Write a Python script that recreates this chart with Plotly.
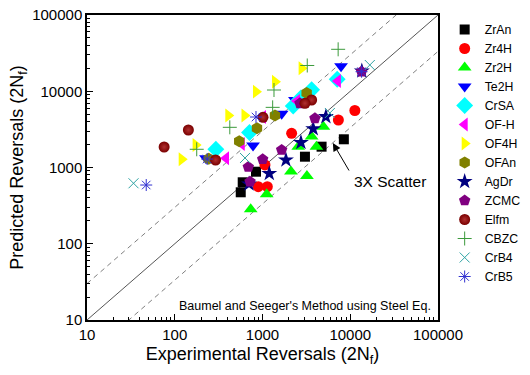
import math
import plotly.graph_objects as go

# ---------------- data (experimental, predicted) ----------------
zran_x = [565, 595, 843, 3046, 4713, 8453]
zran_y = [473, 640, 881, 1386, 1875, 2344]

zr4h_x = [895, 1135, 1067, 2148, 7320, 11280]
zr4h_y = [560, 560, 1079, 2808, 4198, 5593]

zr2h_x = [734, 1116, 2110, 3208, 2553, 4115, 3630, 4943]
zr2h_y = [283, 445, 887, 774, 1875, 1875, 2551, 3430]

te2h_x = [7855, 2344, 1653, 780, 227]
te2h_y = [21240, 7680, 5080, 1944, 1321]

crsa_x = [7096, 3630, 2742, 2239, 711, 294]
crsa_y = [14350, 10480, 8150, 6410, 2877, 1733]

ofh_x = [7228, 2470, 1013, 580, 384]
ofh_y = [13620, 7450, 4594, 2033, 1321]

of4h_x = [2793, 1387, 843, 408, 624, 173, 120]
of4h_y = [20000, 13340, 9870, 4808, 4808, 1972, 1282]

ofan_x = [3184, 1387, 865, 543, 244]
ofan_y = [9490, 4808, 3266, 2206, 1304]

agdr_x = [13550, 5277, 3784, 2742, 1851, 1195, 702]
agdr_y = [18440, 4638, 3218, 2128, 1254, 834, 608]

zcmc_x = [13450, 3957, 2672, 1653, 1005, 689, 721]
zcmc_y = [18050, 4418, 6950, 1698, 1282, 1015, 651]

elfm_x = [3630, 3046, 1013, 143, 75.7, 292]
elfm_y = [7680, 6950, 4550, 3104, 1857, 1254]

cbzc_x = [7280, 3236, 1352, 1306, 424, 178]
cbzc_y = [35480, 21770, 10380, 6150, 3365, 1733]

crb4_x = [16710, 5860, 632, 33.9]
crb4_y = [22090, 5186, 1333, 621]

crb5_x = [13450, 843, 234, 47.3]
crb5_y = [18050, 4594, 1292, 589]

# reference lines: 1:1 and 3X scatter band
ref_x = [10, 100000]
scatter_factors = [1, 3, 1 / 3]

tick_vals = [10, 100, 1000, 10000, 100000]
tick_text = ["10", "100", "1000", "10000", "100000"]

arrow_tip = (6340, 2095)
label_pos = (28240, 665)

FONT = "Arial, Liberation Sans, sans-serif"

series = [
    ("ZrAn", zran_x, zran_y, dict(symbol="square", color="#000000", size=10)),
    ("Zr4H", zr4h_x, zr4h_y, dict(symbol="circle", color="#ff0000", size=11)),
    ("Zr2H", zr2h_x, zr2h_y, dict(symbol="triangle-up", color="#00ff00", size=12)),
    ("Te2H", te2h_x, te2h_y, dict(symbol="triangle-down", color="#0000ff", size=12)),
    ("CrSA", crsa_x, crsa_y, dict(symbol="diamond", color="#00ffff", size=13)),
    ("OF-H", ofh_x, ofh_y, dict(symbol="triangle-left", color="#ff00ff", size=12)),
    ("OF4H", of4h_x, of4h_y, dict(symbol="triangle-right", color="#ffff00", size=12)),
    ("OFAn", ofan_x, ofan_y, dict(symbol="hexagon", color="#808000", size=12)),
    ("AgDr", agdr_x, agdr_y, dict(symbol="star", color="#000080", size=12)),
    ("ZCMC", zcmc_x, zcmc_y, dict(symbol="pentagon", color="#800080", size=12)),
    ("Elfm", elfm_x, elfm_y, dict(symbol="circle", color="#7a0000", size=11,
                                  gradient=dict(type="radial", color="#b03030"))),
    ("CBZC", cbzc_x, cbzc_y, dict(symbol="cross-thin", color="#3c9a3c", size=10,
                                  line=dict(color="#3c9a3c", width=1))),
    ("CrB4", crb4_x, crb4_y, dict(symbol="x-thin", color="#2fa3a3", size=10,
                                  line=dict(color="#2fa3a3", width=1))),
    ("CrB5", crb5_x, crb5_y, dict(symbol="asterisk", color="#3030d0", size=10,
                                  line=dict(color="#3030d0", width=1))),
]

fig = go.Figure()

for f in scatter_factors:
    fig.add_trace(go.Scatter(
        x=ref_x, y=[v * f for v in ref_x], mode="lines", showlegend=False,
        hoverinfo="skip",
        line=dict(color="#555555" if f == 1 else "#808080", width=1,
                  dash="solid" if f == 1 else "5px,4px"),
    ))

for name, xs, ys, mk in series:
    m = dict(mk)
    if "line" not in m:
        m["line"] = dict(width=0)
    fig.add_trace(go.Scatter(x=xs, y=ys, mode="markers", name=name, marker=m))

axis_common = dict(
    type="log", range=[1, 5], showline=True, mirror=True, linecolor="black",
    linewidth=1.5, ticks="inside", ticklen=6, tickwidth=1, tickcolor="black",
    showgrid=False, zeroline=False, tickvals=tick_vals, ticktext=tick_text,
    tickfont=dict(family=FONT, size=15, color="black"),
    minor=dict(ticks="inside", ticklen=3, tickcolor="black", dtick="D1", showgrid=False),
)

fig.update_xaxes(**axis_common,
                 title=dict(text="Experimental Reversals (2N<sub>f</sub>)",
                            font=dict(family=FONT, size=18, color="black"), standoff=6))
fig.update_yaxes(**axis_common,
                 title=dict(text="Predicted Reversals (2N<sub>f</sub>)",
                            font=dict(family=FONT, size=18, color="black"), standoff=4))

fig.add_annotation(x=math.log10(label_pos[0]), y=math.log10(label_pos[1]),
                   text="3X Scatter", showarrow=False,
                   font=dict(family=FONT, size=15.5, color="black"))
fig.add_annotation(x=math.log10(arrow_tip[0]), y=math.log10(arrow_tip[1]),
                   text="", showarrow=True, ax=17, ay=29, arrowhead=2,
                   arrowsize=1.6, arrowwidth=1, arrowcolor="black")
fig.add_annotation(xref="x domain", yref="y domain", x=0.985, y=0.015,
                   xanchor="right", yanchor="bottom", showarrow=False,
                   text="Baumel and Seeger's Method using Steel Eq.",
                   font=dict(family=FONT, size=12.5, color="black"))

fig.update_layout(
    width=530, height=375,
    margin=dict(l=87, r=92, t=15, b=55, autoexpand=False),
    plot_bgcolor="white", paper_bgcolor="white",
    font=dict(family=FONT, color="black"),
    legend=dict(x=1.019, y=1.0, xref="paper", yref="paper",
                xanchor="left", yanchor="top",
                bgcolor="rgba(0,0,0,0)", borderwidth=0,
                font=dict(family=FONT, size=12.3, color="black"),
                tracegroupgap=0),
)

fig.write_html("out.html")
